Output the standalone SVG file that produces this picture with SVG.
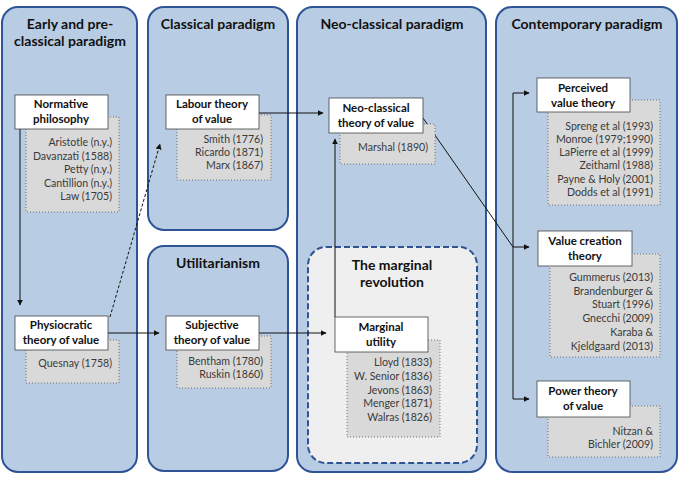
<svg xmlns="http://www.w3.org/2000/svg" width="680" height="483" viewBox="0 0 680 483">
<defs>
<marker id="ah" viewBox="0 0 10 10" refX="9" refY="5" markerWidth="6" markerHeight="6" orient="auto" markerUnits="userSpaceOnUse">
<path d="M0,0 L10,5 L0,10 z" fill="#111"/>
</marker>
<style>
.panel{fill:#b8cce4;stroke:#2f5496;stroke-width:2}
.rev{fill:#efefef;stroke:#2f5496;stroke-width:2;stroke-dasharray:6,3}
.title{font-family:Lato,"Liberation Sans",sans-serif;font-weight:bold;font-size:14px;fill:#111;text-anchor:middle}
.node{fill:#fff;stroke:#444;stroke-width:0.8}
.nt{font-family:Lato,"Liberation Sans",sans-serif;font-weight:bold;font-size:11.5px;fill:#111;text-anchor:middle}
.ref{fill:#d9d9d9;stroke:#555;stroke-width:0.8;stroke-dasharray:1,2}
.rt{font-family:Lato,"Liberation Sans",sans-serif;font-size:10.6px;fill:#3a3a3a;text-anchor:end}
.con{fill:none;stroke:#111;stroke-width:1}
</style>
</defs>

<g id="panel-early"><rect class="panel" x="2" y="7" width="135" height="465" rx="16"/>
<text class="title" x="70" y="29">Early and pre-</text><text class="title" x="70" y="46">classical paradigm</text></g>
<g id="panel-classical"><rect class="panel" x="148" y="7" width="140" height="223" rx="16"/>
<text class="title" x="218" y="29">Classical paradigm</text></g>
<g id="panel-util"><rect class="panel" x="148" y="246" width="140" height="225" rx="16"/>
<text class="title" x="218" y="268">Utilitarianism</text></g>
<g id="panel-neo"><rect class="panel" x="297" y="7" width="189" height="465" rx="16"/>
<text class="title" x="392" y="29">Neo-classical paradigm</text></g>
<g id="panel-contemporary"><rect class="panel" x="496" y="7" width="181" height="465" rx="16"/>
<text class="title" x="587" y="29">Contemporary paradigm</text></g>
<g id="marginal-revolution"><rect class="rev" x="308" y="247" width="169" height="216" rx="18"/>
<text class="title" x="392" y="270">The marginal</text><text class="title" x="392" y="287">revolution</text></g>

<g id="connectors">
<path class="con" d="M20,129 V305" marker-end="url(#ah)"/>
<path class="con" d="M110,317 L160,144" stroke-dasharray="3,2" marker-end="url(#ah)"/>
<path class="con" d="M108,333 H159" marker-end="url(#ah)"/>
<path class="con" d="M259,113 H323" marker-end="url(#ah)"/>
<path class="con" d="M259,333 H326" marker-end="url(#ah)"/>
<path class="con" d="M335,317 V139" marker-end="url(#ah)"/>
<path class="con" d="M423,118 L513,247 H529" marker-end="url(#ah)"/>
<path class="con" d="M513,247 V93 H529" marker-end="url(#ah)"/>
<path class="con" d="M513,247 V399 H529" marker-end="url(#ah)"/>
</g>

<g id="normative">
<rect class="ref" x="26" y="117" width="93" height="95"/>
<rect class="node" x="15" y="95" width="93" height="34"/>
<text class="nt" x="61" y="108">Normative</text><text class="nt" x="61" y="123">philosophy</text>
<text class="rt" x="112" y="146">Aristotle (n.y.)</text><text class="rt" x="112" y="159.5">Davanzati (1588)</text><text class="rt" x="112" y="173">Petty (n.y.)</text><text class="rt" x="112" y="186.5">Cantillion (n.y.)</text><text class="rt" x="112" y="200">Law (1705)</text>
</g>
<g id="physiocratic">
<rect class="ref" x="26" y="340" width="93" height="43"/>
<rect class="node" x="15" y="316" width="93" height="34"/>
<text class="nt" x="61" y="329">Physiocratic</text><text class="nt" x="61" y="344">theory of value</text>
<text class="rt" x="112" y="367">Quesnay (1758)</text>
</g>
<g id="labour">
<rect class="ref" x="177" y="115" width="94" height="65"/>
<rect class="node" x="166" y="95" width="93" height="34"/>
<text class="nt" x="212" y="108">Labour theory</text><text class="nt" x="212" y="123">of value</text>
<text class="rt" x="263" y="143">Smith (1776)</text><text class="rt" x="263" y="156">Ricardo (1871)</text><text class="rt" x="263" y="169">Marx (1867)</text>
</g>
<g id="subjective">
<rect class="ref" x="177" y="336" width="94" height="52"/>
<rect class="node" x="166" y="316" width="93" height="34"/>
<text class="nt" x="212" y="329">Subjective</text><text class="nt" x="212" y="344">theory of value</text>
<text class="rt" x="263" y="365">Bentham (1780)</text><text class="rt" x="263" y="378">Ruskin (1860)</text>
</g>
<g id="neoclassical">
<rect class="ref" x="340" y="124" width="95" height="40"/>
<rect class="node" x="329" y="98" width="94" height="35"/>
<text class="nt" x="376" y="112">Neo-classical</text><text class="nt" x="376" y="127">theory of value</text>
<text class="rt" x="428" y="151">Marshal (1890)</text>
</g>
<g id="marginal-utility">
<rect class="ref" x="347" y="340" width="93" height="97"/>
<rect class="node" x="335" y="317" width="93" height="35"/>
<text class="nt" x="381" y="331">Marginal</text><text class="nt" x="381" y="346">utility</text>
<text class="rt" x="432" y="366">Lloyd (1833)</text><text class="rt" x="432" y="380">W. Senior (1836)</text><text class="rt" x="432" y="394">Jevons (1863)</text><text class="rt" x="432" y="407">Menger (1871)</text><text class="rt" x="432" y="421">Walras (1826)</text>
</g>
<g id="perceived">
<rect class="ref" x="548" y="100" width="112" height="105"/>
<rect class="node" x="537" y="78" width="93" height="34"/>
<text class="nt" x="583" y="92">Perceived</text><text class="nt" x="583" y="107">value theory</text>
<text class="rt" x="653" y="130">Spreng et al (1993)</text><text class="rt" x="653" y="143">Monroe (1979;1990)</text><text class="rt" x="653" y="156">LaPierre et al (1999)</text><text class="rt" x="653" y="169">Zeithaml (1988)</text><text class="rt" x="653" y="182.5">Payne &amp; Holy (2001)</text><text class="rt" x="653" y="196">Dodds et al (1991)</text>
</g>
<g id="value-creation">
<rect class="ref" x="550" y="254" width="110" height="103"/>
<rect class="node" x="538" y="231" width="94" height="35"/>
<text class="nt" x="585" y="245">Value creation</text><text class="nt" x="585" y="260">theory</text>
<text class="rt" x="653" y="281">Gummerus (2013)</text><text class="rt" x="653" y="295">Brandenburger &amp;</text><text class="rt" x="653" y="308">Stuart (1996)</text><text class="rt" x="653" y="322">Gnecchi (2009)</text><text class="rt" x="653" y="336">Karaba &amp;</text><text class="rt" x="653" y="350">Kjeldgaard (2013)</text>
</g>
<g id="power">
<rect class="ref" x="548" y="406" width="112" height="51"/>
<rect class="node" x="537" y="381" width="93" height="36"/>
<text class="nt" x="583" y="395">Power theory</text><text class="nt" x="583" y="410">of value</text>
<text class="rt" x="653" y="435">Nitzan &amp;</text><text class="rt" x="653" y="448">Bichler (2009)</text>
</g>
</svg>
